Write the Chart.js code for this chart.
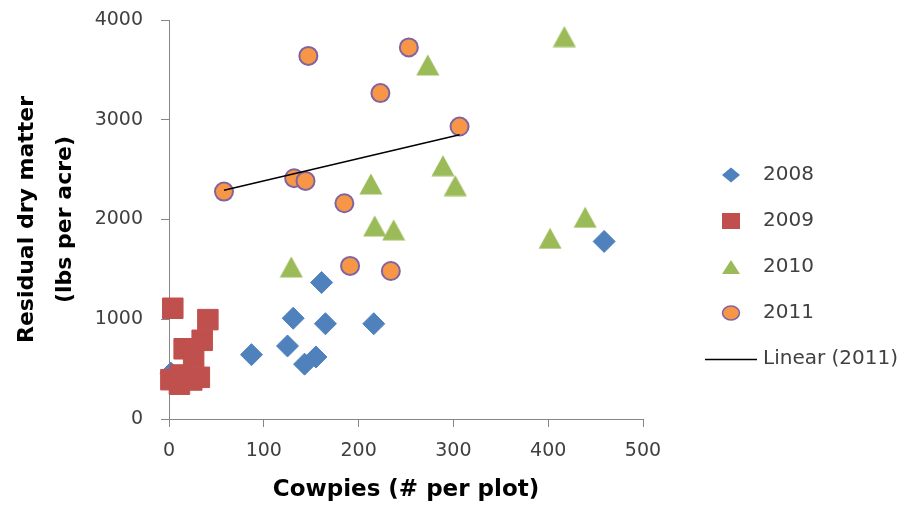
<!DOCTYPE html>
<html>
<head>
<meta charset="utf-8">
<title>Residual dry matter vs cowpies</title>
<script src="https://cdn.jsdelivr.net/npm/chart.js@4.4.1/dist/chart.umd.min.js"></script>
<style>
  html, body { margin: 0; padding: 0; background: #ffffff; }
  #wrap { width: 903px; height: 509px; }
</style>
</head>
<body>
<div id="wrap"><canvas id="chart" width="903" height="509"></canvas></div>
<script>
// Cowpies (# per plot) and residual dry matter (lbs per acre), one pair of arrays per year
const cowpies2008 = [2, 87, 125, 131, 143, 155, 161, 165, 216, 459];
const matter2008  = [460, 645, 732, 1010, 550, 622, 1368, 955, 955, 1780];

const cowpies2009 = [4, 41, 35, 16, 26, 2, 11, 32, 24, 12];
const matter2009  = [1110, 996, 789, 704, 625, 394, 349, 418, 391, 441];

const cowpies2010 = [129, 213, 217, 237, 273, 289, 302, 402, 417, 439];
const matter2010  = [1525, 2357, 1936, 1896, 3550, 2540, 2340, 1812, 3834, 2023];

const cowpies2011 = [58, 132, 144, 147, 185, 191, 223, 234, 253, 306.5];
const matter2011  = [2280, 2414, 2387, 3640, 2163, 1535, 3267, 1484, 3725, 2932];

const yearLabels = ['2008', '2009', '2010', '2011'];
const trendLabel = 'Linear (2011)';

const xTicks = [0, 100, 200, 300, 400, 500];
const yTicks = [0, 1000, 2000, 3000, 4000];

const xTitle = 'Cowpies (# per plot)';
const yTitle = ['Residual dry matter', '(lbs per acre)'];

// Colours
const BLUE = '#4f81bd', RED = '#c0504d', GREEN = '#9bbb59', ORANGE = '#f79646', PURPLE = '#8064a2';
const AXIS = '#868686', TEXT = '#404040';

function pairs(xs, ys) { return xs.map((x, i) => ({ x, y: ys[i] })); }

// Least-squares line through the 2011 points, drawn across their x range
function linearFit(xs, ys) {
  const n = xs.length;
  const mx = xs.reduce((a, b) => a + b, 0) / n;
  const my = ys.reduce((a, b) => a + b, 0) / n;
  let sxy = 0, sxx = 0;
  for (let i = 0; i < n; i++) { sxy += (xs[i] - mx) * (ys[i] - my); sxx += (xs[i] - mx) ** 2; }
  const slope = sxy / sxx;
  const icpt = my - slope * mx;
  const x0 = Math.min(...xs), x1 = Math.max(...xs);
  return [{ x: x0, y: icpt + slope * x0 }, { x: x1, y: icpt + slope * x1 }];
}

// Small canvases used as point and legend symbols
function icon(w, h, draw) {
  const c = document.createElement('canvas');
  c.width = w; c.height = h;
  const g = c.getContext('2d');
  draw(g, w / 2, h / 2);
  return c;
}

// Triangle marker centred on its bounding box
const triangleMarker = icon(24, 22, (g) => {
  g.fillStyle = GREEN; g.beginPath();
  g.moveTo(12, 0.5); g.lineTo(23.5, 21.5); g.lineTo(0.5, 21.5); g.closePath(); g.fill();
});

const legendIcons = [
  icon(56, 20, (g, x, y) => { g.fillStyle = BLUE; g.beginPath(); g.moveTo(x - 9, y); g.lineTo(x, y - 7.5); g.lineTo(x + 9, y); g.lineTo(x, y + 7.5); g.closePath(); g.fill(); }),
  icon(56, 20, (g, x, y) => { g.fillStyle = RED; g.fillRect(x - 9, y - 8, 18, 16); }),
  icon(56, 20, (g, x, y) => { g.fillStyle = GREEN; g.beginPath(); g.moveTo(x, y - 7); g.lineTo(x + 9, y + 7); g.lineTo(x - 9, y + 7); g.closePath(); g.fill(); }),
  icon(56, 20, (g, x, y) => { g.fillStyle = ORANGE; g.strokeStyle = PURPLE; g.lineWidth = 1.5; g.beginPath(); g.ellipse(x, y, 8.5, 7, 0, 0, Math.PI * 2); g.fill(); g.stroke(); }),
  icon(56, 20, (g, x, y) => { g.strokeStyle = '#000'; g.lineWidth = 1.3; g.beginPath(); g.moveTo(2, y + 0.5); g.lineTo(54, y + 0.5); g.stroke(); })
];

// Puts the legend block beside the plot
const legendPlacement = {
  id: 'legendPlacement',
  afterLayout(chart) {
    const lg = chart.legend;
    lg.left = 683; lg.right = 903; lg.width = 220;
    lg.top = 139; lg.bottom = 509; lg.height = 370;
  }
};

Chart.defaults.font.family = '"DejaVu Sans", sans-serif';

new Chart(document.getElementById('chart'), {
  type: 'scatter',
  data: {
    datasets: [
      { label: yearLabels[0], data: pairs(cowpies2008, matter2008), pointStyle: 'rectRot', pointRadius: 11,
        backgroundColor: BLUE, borderColor: BLUE, borderWidth: 1, order: 4, clip: false },
      { label: yearLabels[1], data: pairs(cowpies2009, matter2009), pointStyle: 'rect', pointRadius: 14.5,
        backgroundColor: RED, borderColor: RED, borderWidth: 1, order: 3, clip: false },
      { label: yearLabels[2], data: pairs(cowpies2010, matter2010), pointStyle: triangleMarker, pointRadius: 12,
        backgroundColor: GREEN, borderColor: GREEN, borderWidth: 0, order: 2, clip: false },
      { label: yearLabels[3], data: pairs(cowpies2011, matter2011), pointStyle: 'circle', pointRadius: 9,
        backgroundColor: ORANGE, borderColor: PURPLE, borderWidth: 2, order: 1, clip: false },
      { type: 'line', label: trendLabel, data: linearFit(cowpies2011, matter2011), showLine: true,
        borderColor: '#000000', borderWidth: 1.4, pointRadius: 0, fill: false, order: 0, clip: false }
    ]
  },
  options: {
    responsive: false,
    animation: false,
    events: [],
    layout: { padding: { top: 20, right: 60, bottom: 0, left: 0 } },
    scales: {
      x: {
        type: 'linear', min: xTicks[0], max: xTicks[xTicks.length - 1],
        afterBuildTicks: (s) => { s.ticks = xTicks.map(v => ({ value: v })); },
        afterFit: (s) => { s.height = 90; },
        grid: { display: true, drawOnChartArea: false, drawTicks: true, tickLength: 8, color: AXIS, lineWidth: 1 },
        border: { display: true, color: AXIS, width: 1 },
        ticks: { color: TEXT, font: { size: 19 }, padding: 13, maxRotation: 0, callback: (v) => String(v) },
        title: { display: true, text: xTitle, color: '#000000', font: { size: 23, weight: 'bold' }, padding: { top: 0, bottom: 5 } }
      },
      y: {
        type: 'linear', min: yTicks[0], max: yTicks[yTicks.length - 1],
        afterBuildTicks: (s) => { s.ticks = yTicks.map(v => ({ value: v })); },
        afterFit: (s) => { s.width = 169; s.paddingTop = 0; s.paddingBottom = 0; },
        grid: { display: true, drawOnChartArea: false, drawTicks: true, tickLength: 8, color: AXIS, lineWidth: 1 },
        border: { display: true, color: AXIS, width: 1 },
        ticks: { color: TEXT, font: { size: 19 }, padding: 18, callback: (v) => String(v) },
        title: { display: true, text: yTitle, color: '#000000', font: { size: 22, weight: 'bold', lineHeight: 1.73 }, padding: { top: 8, bottom: 0 } }
      }
    },
    plugins: {
      tooltip: { enabled: false },
      legend: {
        position: 'right',
        align: 'start',
        maxWidth: 200,
        labels: {
          usePointStyle: true,
          pointStyleWidth: 44,
          padding: 26,
          color: TEXT,
          font: { size: 20 },
          sort: (a, b) => a.datasetIndex - b.datasetIndex,
          generateLabels: (chart) => chart.data.datasets.map((ds, i) => ({
            text: ds.label, datasetIndex: i, pointStyle: legendIcons[i],
            fillStyle: 'transparent', strokeStyle: 'transparent', lineWidth: 0, hidden: false, fontColor: TEXT
          }))
        }
      }
    }
  },
  plugins: [legendPlacement]
});
</script>
</body>
</html>
